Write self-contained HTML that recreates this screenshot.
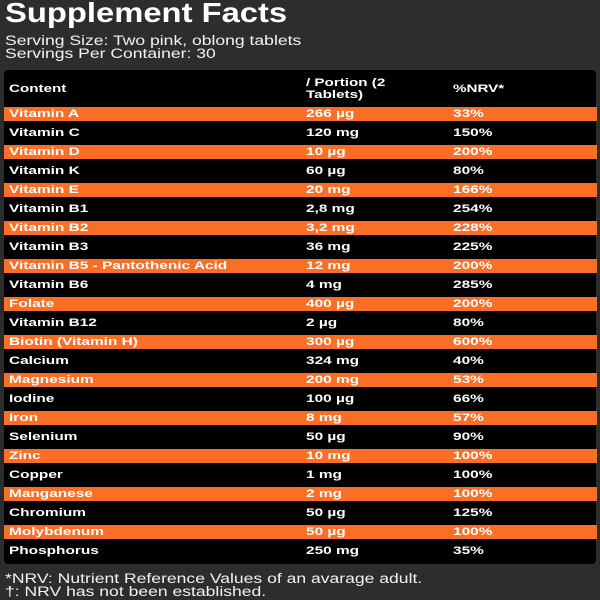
<!DOCTYPE html>
<html><head><style>
body{margin:0;width:600px;height:600px;background:#2c2e2d;font-family:"Liberation Sans",Arial,sans-serif;color:#fff;position:relative;overflow:hidden}
.sx{display:inline-block;transform-origin:0 0;white-space:nowrap}
.t{position:absolute;left:5px;top:-3px;font-size:28px;font-weight:bold;transform:scaleX(1.17);transform-origin:0 0}
.s{position:absolute;left:5px;font-size:13.5px;line-height:13px;color:#f2f2f2;transform:scaleX(1.3);transform-origin:0 0;white-space:nowrap}
.box{position:absolute;left:4px;top:70px;width:592px;height:494px;background:#000;border-radius:4px}
.h{position:absolute;font-size:11px;font-weight:bold;line-height:12px;transform:scaleX(1.38);transform-origin:0 0;white-space:nowrap}
.r{position:absolute;left:4px;width:593px;height:14px;font-size:11px;font-weight:bold;line-height:14px}
.r.o{background:#fa6e25}
.r span{position:absolute;transform:scaleX(1.4);transform-origin:0 0;white-space:nowrap}
.a{left:5px}.b{left:302px}.c{left:449px}
</style></head><body>
<div class="t">Supplement Facts</div>
<div class="s" style="top:34px">Serving Size: Two pink, oblong tablets<br>Servings Per Container: 30</div>
<div class="box"></div>
<div class="h" style="left:9px;top:83px">Content</div>
<div class="h" style="left:306px;top:77px">/ Portion (2<br>Tablets)</div>
<div class="h" style="left:453px;top:83px">%NRV*</div>
<div id="rows"></div>
<div class="s" style="top:572px">*NRV: Nutrient Reference Values of an avarage adult.<br>†: NRV has not been established.</div>
<script>
var d=[["Vitamin A","266 µg","33%"],["Vitamin C","120 mg","150%"],["Vitamin D","10 µg","200%"],["Vitamin K","60 µg","80%"],["Vitamin E","20 mg","166%"],["Vitamin B1","2,8 mg","254%"],["Vitamin B2","3,2 mg","228%"],["Vitamin B3","36 mg","225%"],["Vitamin B5 - Pantothenic Acid","12 mg","200%"],["Vitamin B6","4 mg","285%"],["Folate","400 µg","200%"],["Vitamin B12","2 µg","80%"],["Biotin (Vitamin H)","300 µg","600%"],["Calcium","324 mg","40%"],["Magnesium","200 mg","53%"],["Iodine","100 µg","66%"],["Iron","8 mg","57%"],["Selenium","50 µg","90%"],["Zinc","10 mg","100%"],["Copper","1 mg","100%"],["Manganese","2 mg","100%"],["Chromium","50 µg","125%"],["Molybdenum","50 µg","100%"],["Phosphorus","250 mg","35%"]];
var h="";d.forEach(function(r,i){var y=107+i*19.0;h+='<div class="r'+(i%2==0?' o':'')+'" style="top:'+y+'px"><span class="a">'+r[0]+'</span><span class="b">'+r[1]+'</span><span class="c">'+r[2]+'</span></div>';});
document.getElementById("rows").innerHTML=h;
</script>
</body></html>
